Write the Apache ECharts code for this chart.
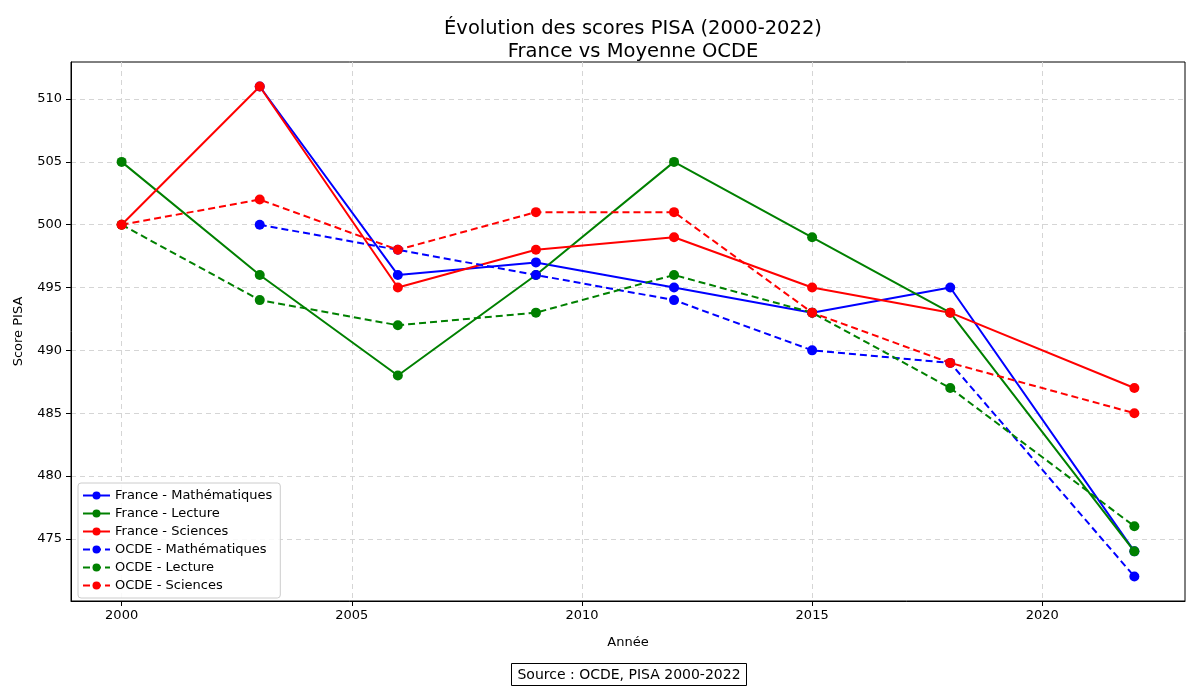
<!DOCTYPE html>
<html>
<head>
<meta charset="utf-8">
<script src="https://cdn.jsdelivr.net/npm/echarts@6/dist/echarts.min.js"></script>
<style>
  html, body { margin: 0; padding: 0; background: #fff; }
  #chart { width: 1200px; height: 700px; }
</style>
</head>
<body>
<div id="chart"></div>
<script>
// PISA data, one value per survey year (null = not measured)
var years = [2000, 2003, 2006, 2009, 2012, 2015, 2018, 2022];
var franceMaths    = [null, 511, 496, 497, 495, 493, 495, 474];
var franceLecture  = [505, 496, 488, 496, 505, 499, 493, 474];
var franceSciences = [500, 511, 495, 498, 499, 495, 493, 487];
var ocdeMaths      = [null, 500, 498, 496, 494, 490, 489, 472];
var ocdeLecture    = [500, 494, 492, 493, 496, 493, 487, 476];
var ocdeSciences   = [500, 502, 498, 501, 501, 493, 489, 485];
var xTicks = [2000, 2005, 2010, 2015, 2020];
var yTicks = [475, 480, 485, 490, 495, 500, 505, 510];

var FONT = 'DejaVu Sans';

function pairs(values) {
    return years.map(function (y, i) { return [y, values[i]]; });
}

function makeSeries(name, values, color, dashed) {
    return {
        name: name,
        type: 'line',
        data: pairs(values),
        symbol: 'circle',
        symbolSize: 10,
        showSymbol: true,
        connectNulls: false,
        itemStyle: { color: color },
        lineStyle: { color: color, width: 2, type: dashed ? [7, 4] : 'solid' },
        emphasis: { disabled: true },
        animation: false
    };
}

var chart = echarts.init(document.getElementById('chart'));

var option = {
    backgroundColor: '#fff',
    textStyle: { fontFamily: FONT },
    title: [
        {
            text: 'Évolution des scores PISA (2000-2022)\nFrance vs Moyenne OCDE',
            left: 628,
            top: 12,
            textAlign: 'center',
            textStyle: { fontFamily: FONT, fontSize: 19.5, fontWeight: 'normal', color: '#000', lineHeight: 23 }
        },
        {
            text: 'Source : OCDE, PISA 2000-2022',
            left: 623,
            top: 663,
            textAlign: 'center',
            padding: [5, 6, 4, 6],
            borderWidth: 1,
            borderColor: '#000',
            textStyle: { fontFamily: FONT, fontSize: 14, fontWeight: 'normal', color: '#000' }
        }
    ],
    legend: {
        orient: 'vertical',
        left: 78,
        bottom: 102,
        itemWidth: 27,
        itemHeight: 10,
        itemGap: 5,
        padding: [6, 8, 6, 4],
        borderColor: '#ccc',
        borderWidth: 1,
        borderRadius: 3,
        backgroundColor: 'rgba(255,255,255,0.85)',
        textStyle: { fontFamily: FONT, fontSize: 13, color: '#000' },
        data: ['France - Mathématiques', 'France - Lecture', 'France - Sciences',
               'OCDE - Mathématiques', 'OCDE - Lecture', 'OCDE - Sciences']
    },
    grid: {
        left: 71,
        right: 15,
        top: 62,
        bottom: 99,
        show: true,
        borderColor: '#000',
        borderWidth: 1,
        containLabel: false
    },
    xAxis: {
        type: 'value',
        min: 1998.9,
        max: 2023.1,
        name: 'Année',
        nameLocation: 'middle',
        nameGap: 35,
        nameTextStyle: { fontFamily: FONT, fontSize: 13, color: '#000' },
        axisLine: { show: true, lineStyle: { color: '#000' } },
        axisTick: { show: true, length: 5, customValues: xTicks, lineStyle: { color: '#000' } },
        axisLabel: { customValues: xTicks, fontSize: 13, color: '#000', margin: 8, formatter: function (v) { return String(v); } },
        splitLine: { show: true, lineStyle: { color: '#d5d5d5', type: [5, 4], width: 1 } }
    },
    yAxis: {
        type: 'value',
        min: 470.05,
        max: 512.95,
        name: 'Score PISA',
        nameLocation: 'middle',
        nameGap: 46,
        nameTextStyle: { fontFamily: FONT, fontSize: 13, color: '#000' },
        axisLine: { show: true, lineStyle: { color: '#000' } },
        axisTick: { show: true, length: 5, customValues: yTicks, lineStyle: { color: '#000' } },
        axisLabel: { customValues: yTicks, fontSize: 13, color: '#000', margin: 9 },
        splitLine: { show: true, lineStyle: { color: '#d5d5d5', type: [5, 4], width: 1 } }
    },
    series: [
        makeSeries('France - Mathématiques', franceMaths, '#0000ff', false),
        makeSeries('France - Lecture', franceLecture, '#008000', false),
        makeSeries('France - Sciences', franceSciences, '#ff0000', false),
        makeSeries('OCDE - Mathématiques', ocdeMaths, '#0000ff', true),
        makeSeries('OCDE - Lecture', ocdeLecture, '#008000', true),
        makeSeries('OCDE - Sciences', ocdeSciences, '#ff0000', true)
    ]
};

chart.setOption(option);
</script>
</body>
</html>
